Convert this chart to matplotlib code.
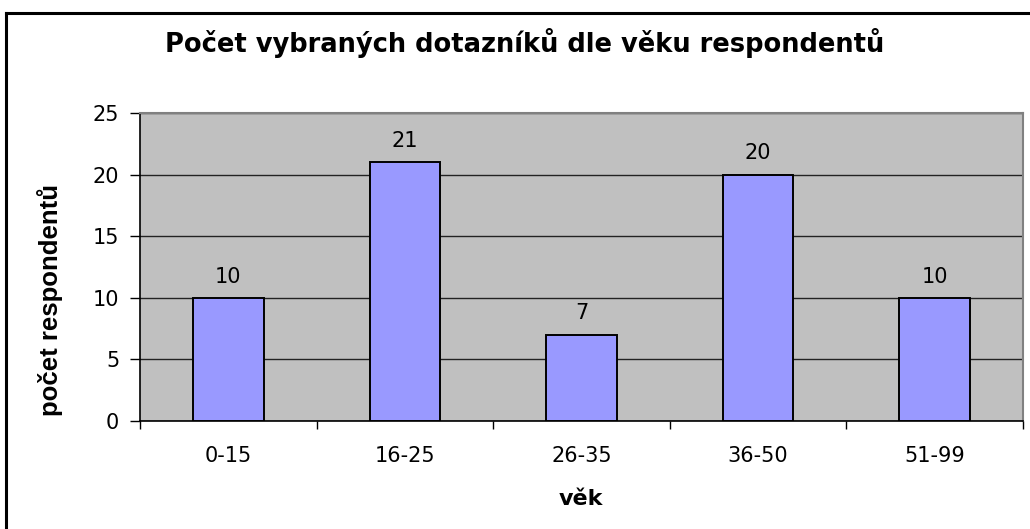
import matplotlib.pyplot as plt
from matplotlib.lines import Line2D

# data
categories = ['0-15', '16-25', '26-35', '36-50', '51-99']
counts = [10, 21, 7, 20, 10]
y_ticks = [0, 5, 10, 15, 20, 25]

title = 'Počet vybraných dotazníků dle věku respondentů'
x_label = 'věk'
y_label = 'počet respondentů'

plt.rcParams['font.family'] = ['DejaVu Sans']

fig = plt.figure(figsize=(10.3, 5.29), dpi=100)
ax = fig.add_axes([140 / 1030, 1 - 421 / 529, 883 / 1030, 308 / 529])
ax.set_facecolor('#C0C0C0')

x = range(len(categories))
bars = ax.bar(x, counts, width=0.4, color='#9999FF', edgecolor='black', linewidth=1.4, zorder=3)

ax.set_xlim(-0.5, len(categories) - 0.5)
ax.set_ylim(0, 25)
ax.set_yticks(y_ticks)
ax.yaxis.grid(True, color='#222222', linewidth=1.0, zorder=1)

# category tick marks sit between the bars
ax.set_xticks([i - 0.5 for i in range(len(categories) + 1)], minor=False)
ax.set_xticklabels([])
ax.set_xticks(list(x), minor=True)
ax.set_xticklabels(categories, minor=True)
ax.tick_params(axis='x', which='major', length=6, width=1, color='black', direction='out')
ax.tick_params(axis='x', which='minor', length=0, pad=18, labelsize=15)
ax.tick_params(axis='y', length=7, width=1, pad=8, labelsize=15)

for s in ['top', 'right']:
    ax.spines[s].set_color('#808080')
    ax.spines[s].set_linewidth(1.5)
for s in ['left', 'bottom']:
    ax.spines[s].set_color('black')
    ax.spines[s].set_linewidth(1.2)

for b, v in zip(bars, counts):
    ax.annotate(str(v), (b.get_x() + b.get_width() / 2, v), xytext=(0, 11),
                textcoords='offset points', ha='center', va='baseline', fontsize=15)

fig.text(525 / 1030, 1 - 52 / 529, title, ha='center', va='baseline', fontsize=18.5,
         fontweight='bold')
fig.text(581 / 1030, 1 - 499 / 529, x_label, ha='center', va='center', fontsize=16,
         fontweight='bold')
fig.text(50 / 1030, 1 - 300 / 529, y_label, ha='center', va='center', rotation=90,
         fontsize=18.5, fontweight='bold', family=['Liberation Sans', 'DejaVu Sans'])

# outer chart frame (only top and left edges are visible in the original)
fig.add_artist(Line2D([6 / 1030, 6 / 1030], [0, 1 - 13 / 529], transform=fig.transFigure,
                      color='black', linewidth=2.2))
fig.add_artist(Line2D([6 / 1030, 1], [1 - 13 / 529, 1 - 13 / 529], transform=fig.transFigure,
                      color='black', linewidth=2.2))

fig.savefig('out.png', dpi=100)
